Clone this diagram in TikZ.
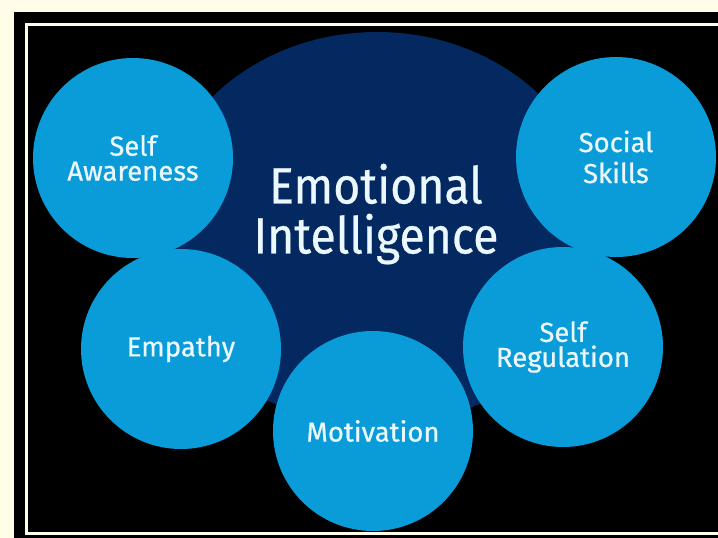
\documentclass[tikz,border=0pt]{standalone}
\usepackage{fontspec}
\setmainfont{Fira Sans}[FakeBold=0.6]
\newfontfamily\titlefont{Fira Sans}[FakeStretch=0.91,FakeBold=0.5]
\usetikzlibrary{positioning,shapes.geometric}
\definecolor{cream}{RGB}{255,253,232}
\definecolor{navy}{RGB}{3,41,96}
\definecolor{skyblue}{RGB}{9,156,216}
\definecolor{pale}{RGB}{236,248,255}
\tikzset{
  bubble/.style={circle,fill=skyblue,minimum size=200pt,inner sep=0pt,outer sep=0pt,
    text=pale,align=center,font=\fontsize{27.5}{25}\selectfont},
  core/.style={ellipse,fill=navy,minimum width=444pt,minimum height=394pt,inner sep=0pt},
}
\begin{document}
\begin{tikzpicture}[x=1pt,y=-1pt]
\useasboundingbox (0,0) rectangle (718,538);
\clip (0,0) rectangle (718,538);
% page and frame
\fill[cream] (0,0) rectangle (718,538);
\fill[black] (14,12) rectangle (740,560);
\draw[cream,line width=2.5pt] (26.5,24.5) rectangle (760,533.5);
% central ellipse
\node[core] (ei) at (377,229) {};
\node[text=pale,align=center,font=\titlefont\fontsize{51}{50}\selectfont] (title) at (376,214) {Emotional\\Intelligence};
% the five components
\node[bubble] (aware) at (133,158) {Self\\Awareness};
\node[bubble,font=\fontsize{27.5}{31}\selectfont] (social) at (616,157) {Social\\Skills};
\node[bubble] (empathy) at (181,349) {Empathy};
\node[bubble] (motiv) at (373,431) {Motivation};
\node[bubble] (regul) at (563,347) {Self\\Regulation};
\end{tikzpicture}
\end{document}
